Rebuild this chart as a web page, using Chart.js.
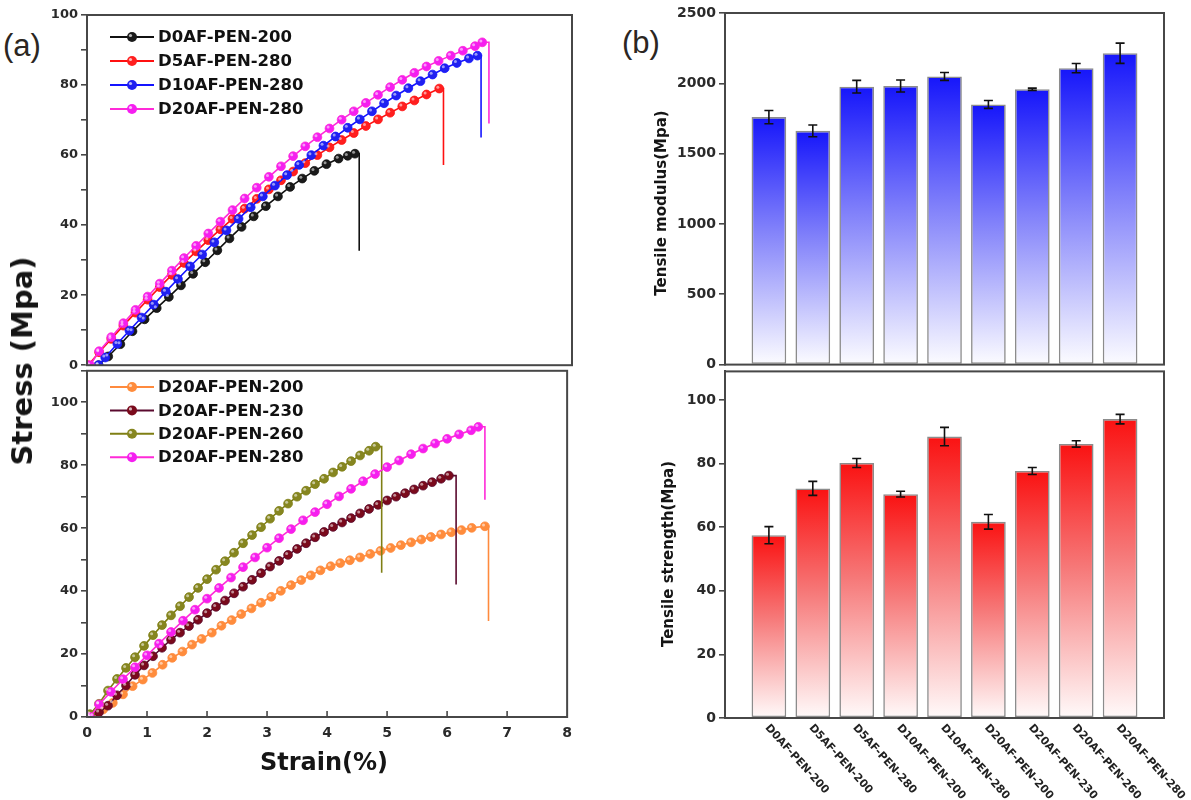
<!DOCTYPE html>
<html>
<head>
<meta charset="utf-8">
<script src="https://cdn.jsdelivr.net/npm/chart.js@4.4.1/dist/chart.umd.min.js"></script>
<style>
body { margin: 0; background: #fff; width: 1191px; height: 800px; position: relative; overflow: hidden; }
.box { position: absolute; }
.lbl { position: absolute; white-space: nowrap; color: #151515; font-family: "DejaVu Sans", sans-serif; font-weight: bold; }
.tag { position: absolute; font-family: "Liberation Sans", sans-serif; font-size: 31px; line-height: 1; color: #2b2622; }
</style>
</head>
<body>
<div class="tag" style="left:3px;top:30px">(a)</div>
<div class="tag" style="left:622px;top:27px">(b)</div>

<div class="box" style="left:0;top:0;width:580px;height:376px"><canvas id="strainTop"></canvas></div>
<div class="box" style="left:0;top:360px;width:580px;height:440px"><canvas id="strainBottom"></canvas></div>
<div class="box" style="left:600px;top:0;width:591px;height:376px"><canvas id="modulusChart"></canvas></div>
<div class="box" style="left:600px;top:360px;width:591px;height:440px"><canvas id="strengthChart"></canvas></div>

<div class="lbl" style="left:22px;top:361px;font-size:29px;transform:translate(-50%,-50%) rotate(-90deg)">Stress (Mpa)</div>
<div class="lbl" style="left:324px;top:762px;font-size:24px;transform:translate(-50%,-50%)">Strain(%)</div>
<div class="lbl" style="left:661px;top:203px;font-size:15px;transform:translate(-50%,-50%) rotate(-90deg)">Tensile modulus(Mpa)</div>
<div class="lbl" style="left:668px;top:554px;font-size:15px;transform:translate(-50%,-50%) rotate(-90deg)">Tensile strength(Mpa)</div>

<script>
// ---------- (a) stress-strain curves ----------
const strainTicks = [0, 1, 2, 3, 4, 5, 6, 7, 8];

const d0af200Strain = [0.19,0.35,0.55,0.75,0.95,1.15,1.35,1.55,1.75,1.95,2.15,2.35,2.55,2.75,2.95,3.15,3.35,3.55,3.75,3.95,4.15,4.3,4.42];
const d0af200Stress = [0,2.5,6,9.7,13.1,16.3,19.5,22.8,26.1,29.4,32.8,36.2,39.5,42.5,45.4,48.2,50.9,53.3,55.5,57.4,59,59.8,60.4];

const d5af280Strain = [0.02,0.2,0.4,0.6,0.8,1.0,1.2,1.4,1.6,1.8,2.0,2.2,2.4,2.6,2.8,3.0,3.2,3.4,3.6,3.8,4.0,4.2,4.4,4.6,4.8,5.0,5.2,5.4,5.6,5.81];
const d5af280Stress = [0,3.7,7.5,11.3,15,18.7,22.3,25.8,29.2,32.5,35.7,38.8,41.8,44.7,47.5,50.2,52.8,55.3,57.7,60,62.2,64.3,66.3,68.3,70.2,72.1,73.9,75.6,77.3,79];

const d10af280Strain = [0.19,0.3,0.5,0.7,0.9,1.1,1.3,1.5,1.7,1.9,2.1,2.3,2.5,2.7,2.9,3.1,3.3,3.5,3.7,3.9,4.1,4.3,4.5,4.7,4.9,5.1,5.3,5.5,5.7,5.9,6.1,6.3,6.44];
const d10af280Stress = [0,2.2,6.1,9.9,13.6,17.3,21,24.6,28.2,31.6,35.1,38.5,41.8,45.1,48.2,51.3,54.3,57.2,60,62.7,65.3,67.8,70.2,72.5,74.8,77,79.1,81.1,83,84.8,86.3,87.6,88.4];

const d20af280Strain = [0.05,0.2,0.4,0.6,0.8,1.0,1.2,1.4,1.6,1.8,2.0,2.2,2.4,2.6,2.8,3.0,3.2,3.4,3.6,3.8,4.0,4.2,4.4,4.6,4.8,5.0,5.2,5.4,5.6,5.8,6.0,6.2,6.4,6.52];
const d20af280Stress = [0,4,8,12,15.8,19.6,23.3,27,30.6,34.1,37.6,41,44.3,47.6,50.7,53.8,56.8,59.7,62.5,65.1,67.6,70.1,72.5,74.9,77.2,79.4,81.5,83.5,85.3,86.9,88.4,89.8,91.1,92.2];

const d20af200Strain = [0.1,0.27,0.43,0.6,0.76,0.93,1.09,1.26,1.42,1.59,1.75,1.91,2.08,2.24,2.41,2.57,2.74,2.9,3.07,3.23,3.4,3.57,3.73,3.89,4.06,4.22,4.38,4.55,4.72,4.89,5.06,5.23,5.4,5.57,5.73,5.9,6.07,6.24,6.41,6.63];
const d20af200Stress = [0.3,2.4,4.5,7.2,9.8,11.9,14,16.6,18.8,20.8,23,24.8,26.8,29,30.8,32.7,34.5,36.3,38.2,40.1,41.9,43.5,45,46.6,47.9,48.9,49.8,50.7,51.8,52.8,53.7,54.6,55.5,56.4,57.2,58,58.7,59.4,60.1,60.6];

const d20af230Strain = [0.05,0.2,0.35,0.5,0.65,0.8,0.95,1.1,1.25,1.4,1.55,1.7,1.85,2.0,2.15,2.3,2.45,2.6,2.75,2.9,3.05,3.2,3.35,3.5,3.65,3.8,3.95,4.1,4.25,4.4,4.55,4.7,4.85,5.0,5.15,5.3,5.45,5.6,5.75,5.9,6.03];
const d20af230Stress = [0,1.5,3.6,6.9,10,13.4,16.4,19.3,22,24.6,26.8,28.9,30.9,33,35,37,39.3,41.4,43.6,45.7,47.8,49.6,51.5,53.4,55.2,57.1,58.8,60.4,61.8,63.2,64.7,66.1,67.4,68.8,70,71.1,72.3,73.5,74.6,75.7,76.7];

const d20af260Strain = [0.05,0.2,0.35,0.5,0.65,0.8,0.95,1.1,1.25,1.4,1.55,1.7,1.85,2.0,2.15,2.3,2.45,2.6,2.75,2.9,3.05,3.2,3.35,3.5,3.65,3.8,3.95,4.1,4.25,4.4,4.55,4.7,4.81];
const d20af260Stress = [0.9,4.2,8.4,12.1,15.6,19,22.6,26,29.2,32.3,35.2,38.1,41,43.8,46.8,49.5,52.2,55.2,57.8,60.3,63,65.5,67.8,70,71.9,74,75.7,77.7,79.5,81.3,83.1,84.6,85.9];

// fracture: strain of the vertical drop and the stress it falls to
const topNames = ['D0AF-PEN-200', 'D5AF-PEN-280', 'D10AF-PEN-280', 'D20AF-PEN-280'];
const topBreakStrain = [4.49, 5.88, 6.5, 6.63];
const topBreakStress = [32.7, 57.2, 65, 69];
const bottomNames = ['D20AF-PEN-200', 'D20AF-PEN-230', 'D20AF-PEN-260', 'D20AF-PEN-280'];
const bottomBreakStrain = [6.69, 6.15, 4.91, 6.63];
const bottomBreakStress = [30.5, 42.1, 45.8, 69];

// ---------- (b) bars ----------
const samples = ['D0AF-PEN-200', 'D5AF-PEN-200', 'D5AF-PEN-280', 'D10AF-PEN-200', 'D10AF-PEN-280',
                 'D20AF-PEN-200', 'D20AF-PEN-230', 'D20AF-PEN-260', 'D20AF-PEN-280'];
const modulus = [1760, 1662, 1976, 1981, 2049, 1850, 1958, 2108, 2214];
const modulusErr = [47, 42, 45, 43, 28, 28, 8, 33, 72];
const strength = [57.5, 72.2, 80.2, 70.4, 88.5, 61.7, 77.7, 86.2, 94];
const strengthErr = [2.7, 2.2, 1.4, 0.9, 2.9, 2.3, 1.1, 1.0, 1.5];

Chart.defaults.font.family = '"DejaVu Sans", sans-serif';
Chart.defaults.color = '#222';

const axisColor = '#474747';

function curve(label, strain, stress, breakX, breakY, color, marker, idx) {
    let pts = strain.map((x, i) => ({ x: x, y: stress[i] }));
    pts.push({ x: breakX, y: stress[stress.length - 1] });
    pts.push({ x: breakX, y: breakY });
    return {
        label: label,
        data: pts,
        borderColor: color,
        borderWidth: 1.6,
        pointRadius: pts.map((p, i) => i < strain.length ? 4.4 : 0),
        pointBackgroundColor: marker,
        pointBorderColor: color,
        pointBorderWidth: 0.8,
        pointHoverRadius: 0,
        tension: 0,
        fill: false,
        order: -idx
    };
}

// legend drawn inside the plot: line + bead + bold name
const insideLegend = {
    id: 'insideLegend',
    afterDraw(chart, args, opts) {
        const ctx = chart.ctx;
        ctx.save();
        ctx.font = 'bold 16.5px "DejaVu Sans"';
        ctx.textBaseline = 'middle';
        chart.data.datasets.forEach((ds, i) => {
            const y = opts.y + i * opts.dy;
            ctx.strokeStyle = ds.borderColor;
            ctx.lineWidth = 2;
            ctx.beginPath();
            ctx.moveTo(opts.x, y);
            ctx.lineTo(opts.x + 44, y);
            ctx.stroke();
            ctx.fillStyle = ds.pointBackgroundColor;
            ctx.beginPath();
            ctx.arc(opts.x + 22, y, 5, 0, Math.PI * 2);
            ctx.fill();
            ctx.fillStyle = 'rgba(255,255,255,0.7)';
            ctx.beginPath();
            ctx.arc(opts.x + 20.5, y - 1.5, 1.6, 0, Math.PI * 2);
            ctx.fill();
            ctx.fillStyle = '#111';
            ctx.fillText(ds.label, opts.x + 48, y + 1);
        });
        ctx.restore();
    }
};

// little highlight on each bead
const beadShine = {
    id: 'beadShine',
    afterDatasetsDraw(chart) {
        const ctx = chart.ctx;
        ctx.save();
        ctx.fillStyle = 'rgba(255,255,255,0.55)';
        chart.data.datasets.forEach((ds, d) => {
            chart.getDatasetMeta(d).data.forEach((pt, i) => {
                if (ds.pointRadius[i] > 0) {
                    ctx.beginPath();
                    ctx.arc(pt.x - 1.4, pt.y - 1.4, 1.5, 0, Math.PI * 2);
                    ctx.fill();
                }
            });
        });
        ctx.restore();
    }
};

// box around the plot, optional inward ticks on x
const frame = {
    id: 'frame',
    afterDraw(chart, args, opts) {
        const ctx = chart.ctx, a = chart.chartArea;
        ctx.save();
        ctx.strokeStyle = axisColor;
        ctx.lineWidth = 2;
        ctx.strokeRect(a.left, a.top, a.right - a.left, a.bottom - a.top);
        if (opts.xTicks) {
            const xs = chart.scales.x;
            ctx.lineWidth = 1.6;
            opts.xTicks.forEach(v => {
                const px = xs.getPixelForValue(v);
                ctx.beginPath();
                ctx.moveTo(px, a.bottom);
                ctx.lineTo(px, a.bottom - 6);
                ctx.stroke();
            });
        }
        ctx.restore();
    }
};

function yAxis(max, step, labelStep, width, fontSize) {
    return {
        min: 0,
        max: max,
        ticks: {
            stepSize: step,
            includeBounds: false,
            callback: v => (v % labelStep === 0 ? v : ''),
            font: { weight: 'bold', size: fontSize },
            color: '#2a2a2a',
            padding: 3
        },
        grid: { drawOnChartArea: false, drawTicks: true, tickLength: 6, color: axisColor, lineWidth: 1.6 },
        border: { display: true, color: axisColor, width: 2 },
        afterFit: s => { s.width = width; }
    };
}

function strainChart(id, datasets, yMax, padding, showX, legendPos) {
    let xAxis = {
        type: 'linear',
        min: 0,
        max: 8,
        display: showX,
        ticks: {
            stepSize: 1,
            font: { weight: 'bold', size: 14 },
            color: '#2a2a2a',
            padding: 8
        },
        grid: { drawOnChartArea: false, drawTicks: false },
        border: { display: true, color: axisColor, width: 2 }
    };
    if (showX) xAxis.afterFit = s => { s.height = 83; };

    return new Chart(document.getElementById(id), {
        type: 'line',
        data: { datasets: datasets },
        plugins: [beadShine, frame, insideLegend],
        options: {
            responsive: true,
            maintainAspectRatio: false,
            animation: false,
            layout: { padding: padding },
            plugins: {
                legend: { display: false },
                tooltip: { enabled: false },
                insideLegend: legendPos,
                frame: showX ? { xTicks: strainTicks.slice(1, -1) } : {}
            },
            scales: {
                x: xAxis,
                y: yAxis(yMax, 10, 20, 87, 13)
            }
        }
    });
}

strainChart('strainTop', [
    curve(topNames[0], d0af200Strain, d0af200Stress, topBreakStrain[0], topBreakStress[0], '#111111', '#1a1a1a', 0),
    curve(topNames[1], d5af280Strain, d5af280Stress, topBreakStrain[1], topBreakStress[1], '#ff1010', '#ff1f1f', 1),
    curve(topNames[2], d10af280Strain, d10af280Stress, topBreakStrain[2], topBreakStress[2], '#1414ff', '#2020f0', 2),
    curve(topNames[3], d20af280Strain, d20af280Stress, topBreakStrain[3], topBreakStress[3], '#ff2ad8', '#f51ef0', 3)
], 100, { top: 15, right: 8, bottom: 8, left: 0 }, false, { x: 110, y: 37, dy: 24 });

strainChart('strainBottom', [
    curve(bottomNames[0], d20af200Strain, d20af200Stress, bottomBreakStrain[0], bottomBreakStress[0], '#ff8a3d', '#ff8c3c', 0),
    curve(bottomNames[1], d20af230Strain, d20af230Stress, bottomBreakStrain[1], bottomBreakStress[1], '#5a0a2e', '#7a0a1c', 1),
    curve(bottomNames[2], d20af260Strain, d20af260Stress, bottomBreakStrain[2], bottomBreakStress[2], '#7f7f14', '#868620', 2),
    curve(bottomNames[3], d20af280Strain, d20af280Stress, bottomBreakStrain[3], bottomBreakStress[3], '#ff2ad8', '#f51ef0', 3)
], 110, { top: 8, right: 8, bottom: 0, left: 0 }, true, { x: 110, y: 27, dy: 23.4 });

// ---------- bar panels ----------
function fade(top, mid, end) {
    return function(c) {
        const chart = c.chart;
        if (!chart.chartArea || !c.parsed) return top;
        const ys = chart.scales.y;
        const g = chart.ctx.createLinearGradient(0, ys.getPixelForValue(c.parsed.y), 0, ys.getPixelForValue(0));
        g.addColorStop(0, top);
        g.addColorStop(0.45, mid);
        g.addColorStop(1, end);
        return g;
    };
}

const errorBars = {
    id: 'errorBars',
    afterDatasetsDraw(chart, args, opts) {
        const ctx = chart.ctx, ys = chart.scales.y;
        const vals = chart.data.datasets[0].data;
        ctx.save();
        ctx.strokeStyle = '#111';
        ctx.lineWidth = 1.6;
        chart.getDatasetMeta(0).data.forEach((bar, i) => {
            const t = ys.getPixelForValue(vals[i].y + opts.errors[i]);
            const b = ys.getPixelForValue(vals[i].y - opts.errors[i]);
            ctx.beginPath();
            ctx.moveTo(bar.x, t); ctx.lineTo(bar.x, b);
            ctx.moveTo(bar.x - 4.5, t); ctx.lineTo(bar.x + 4.5, t);
            ctx.moveTo(bar.x - 4.5, b); ctx.lineTo(bar.x + 4.5, b);
            ctx.stroke();
        });
        ctx.restore();
    }
};

const slantLabels = {
    id: 'slantLabels',
    afterDraw(chart, args, opts) {
        if (!opts.labels) return;
        const ctx = chart.ctx, xs = chart.scales.x, a = chart.chartArea;
        ctx.save();
        ctx.font = 'bold 11px "DejaVu Sans"';
        ctx.fillStyle = '#222';
        ctx.textBaseline = 'middle';
        opts.labels.forEach((t, i) => {
            ctx.save();
            ctx.translate(xs.getPixelForValue(i + 1) - 2, a.bottom + 8);
            ctx.rotate(48 * Math.PI / 180);
            ctx.fillText(t, 0, 0);
            ctx.restore();
        });
        ctx.restore();
    }
};

function barChart(id, values, errors, colors, yMax, yStep, padding, labels) {
    return new Chart(document.getElementById(id), {
        type: 'bar',
        data: {
            datasets: [{
                data: values.map((v, i) => ({ x: i + 1, y: v })),
                backgroundColor: fade(colors[0], colors[1], colors[2]),
                borderColor: '#8c8c8c',
                borderWidth: 1.6,
                borderSkipped: false,
                barPercentage: 0.79,
                categoryPercentage: 1
            }]
        },
        plugins: [errorBars, frame, slantLabels],
        options: {
            responsive: true,
            maintainAspectRatio: false,
            animation: false,
            layout: { padding: padding },
            plugins: {
                legend: { display: false },
                tooltip: { enabled: false },
                errorBars: { errors: errors },
                slantLabels: { labels: labels }
            },
            scales: {
                x: { type: 'linear', min: 0, max: 10, offset: false, display: false },
                y: yAxis(yMax, yStep, yStep, 125, 14)
            }
        }
    });
}

barChart('modulusChart', modulus, modulusErr,
    ['rgb(22,22,250)', 'rgb(128,128,250)', 'rgb(252,252,255)'],
    2500, 500, { top: 13, right: 27, bottom: 8, left: 0 }, null);

barChart('strengthChart', strength, strengthErr,
    ['rgb(250,18,18)', 'rgb(246,120,120)', 'rgb(255,250,250)'],
    109, 20, { top: 8, right: 27, bottom: 82, left: 0 }, samples);
</script>
</body>
</html>
